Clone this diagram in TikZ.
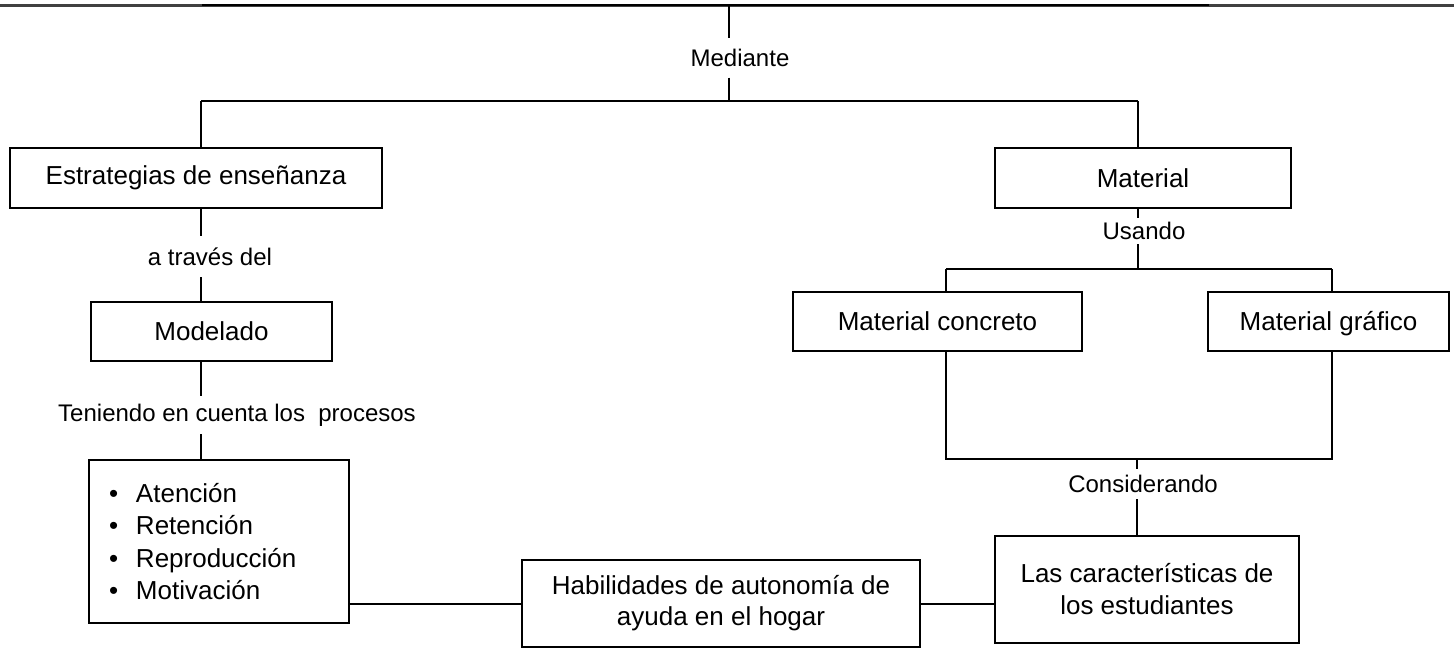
\documentclass[tikz,border=0pt]{standalone}
\usepackage{fontspec}
\setmainfont{Liberation Sans}
\begin{document}
\begin{tikzpicture}[x=1pt,y=-1pt,
  line width=2pt,
  box/.style={draw, line width=2pt, inner sep=0pt, align=center,
    font=\fontsize{26}{31}\selectfont},
  lab/.style={inner sep=0pt, font=\fontsize{24}{28}\selectfont}]
\useasboundingbox (0,0) rectangle (1454,653);
% top rule
\coordinate (tl) at (0,5.5);
\coordinate (tr) at (1454,5.5);
\coordinate (tbl) at (202,5);
\coordinate (tbr) at (1209,5);
\draw[line width=2.5pt, black!75] (tl) -- (tr);
\draw[line width=2.5pt] (tbl) -- (tbr);
% boxes
\node[box, minimum width=372pt, minimum height=60pt] (est) at (196,178) {Estrategias de enseñanza};
\node[box, minimum width=241pt, minimum height=59pt] (mod) at (211.5,331.5) {Modelado};
\node[box, minimum width=260pt, minimum height=163pt, text width=220pt, align=left,
      font=\fontsize{26}{32.5}\selectfont] (bul) at (219,541.5)
  {\makebox[27pt][l]{\textbullet}Atención\\
   \makebox[27pt][l]{\textbullet}Retención\\
   \makebox[27pt][l]{\textbullet}Reproducción\\
   \makebox[27pt][l]{\textbullet}Motivación};
\node[box, minimum width=398pt, minimum height=87pt] (hab) at (721,603.5)
  {Habilidades de autonomía de\\ayuda en el hogar};
\node[box, minimum width=304pt, minimum height=107pt, font=\fontsize{26}{32}\selectfont] (las) at (1147,589.5)
  {Las características de\\los estudiantes};
\node[box, minimum width=296pt, minimum height=60pt] (mat) at (1143,178) {Material};
\node[box, minimum width=289pt, minimum height=59pt] (con) at (937.5,321.5) {\vphantom{Ág}Material concreto};
\node[box, minimum width=241pt, minimum height=59pt] (gra) at (1328.5,321.5) {\vphantom{Ág}Material gráfico};
% labels
\node[lab, minimum height=38pt] (med) at (740,57.5) {Mediante};
\node[lab, minimum height=39pt] (tra) at (210,256.5) {a través del};
\node[lab, minimum height=36pt] (ten) at (237,415) {Teniendo en cuenta los\ \ procesos};
\node[lab, minimum height=24pt] (usa) at (1144,231) {Usando};
\node[lab, minimum height=28pt] (cons) at (1143,484) {Considerando};
% junction coordinates
\coordinate (top) at (729,5);
\coordinate (jT) at (729,101);
\coordinate (jL) at (201,101);
\coordinate (jR) at (1138,101);
\coordinate (uJ) at (1138,269);
\coordinate (uL) at (946,269);
\coordinate (uR) at (1332,269);
\coordinate (cL) at (946,459);
\coordinate (cR) at (1332,459);
\coordinate (cM) at (1137,459);
% connectors
\draw (top) -- (med.north -| top);
\draw (med.south -| top) -- (jT);
\draw (jL) -- (jR);
\draw (jL) -- (jL |- est.north);
\draw (jR) -- (jR |- mat.north);
\draw (est.south -| jL) -- (tra.north -| jL);
\draw (tra.south -| jL) -- (mod.north -| jL);
\draw (mod.south -| jL) -- (ten.north -| jL);
\draw (ten.south -| jL) -- (bul.north -| jL);
\draw (mat.south -| jR) -- (usa.north -| jR);
\draw (usa.south -| jR) -- (uJ);
\draw (uL) -- (uR);
\draw (uL) -- (uL |- con.north);
\draw (uR) -- (uR |- gra.north);
\draw (con.south -| cL) -- (cL) -- (cR) -- (gra.south -| cR);
\draw (cM) -- (cons.north -| cM);
\draw (cons.south -| cM) -- (las.north -| cM);
\draw (hab.west) -- (hab.west -| bul.east);
\draw (hab.east) -- (hab.east -| las.west);
\end{tikzpicture}
\end{document}
